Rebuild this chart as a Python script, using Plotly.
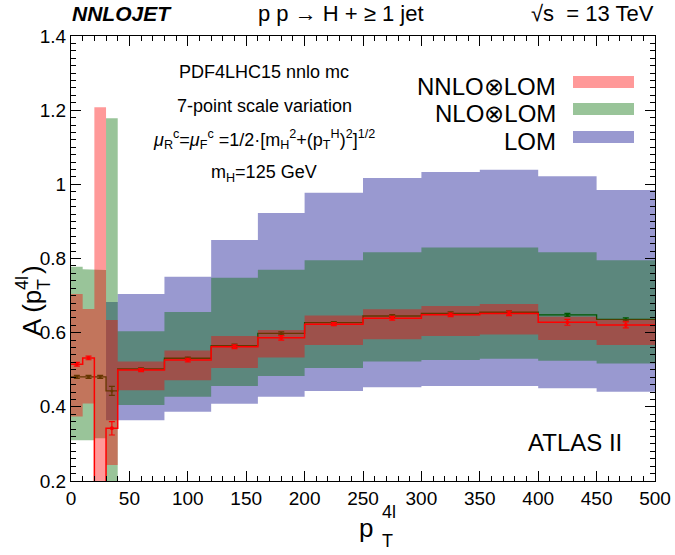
import plotly.graph_objects as go

# ---------------- data ----------------
bin_edges = [0, 10, 20, 30, 40, 80, 120, 160, 200, 250, 300, 350, 400, 450, 500]

nnlo_central = [0.515, 0.532, 0.0, 0.342, 0.499, 0.526, 0.562, 0.586, 0.623, 0.639, 0.648, 0.652, 0.628, 0.621]
nnlo_err = [0.005, 0.005, 0.0, 0.018, 0.004, 0.005, 0.005, 0.006, 0.004, 0.005, 0.005, 0.006, 0.008, 0.008]
nnlo_lo = [0.374, 0.409, -0.2, 0.243, 0.445, 0.472, 0.505, 0.533, 0.567, 0.582, 0.591, 0.595, 0.580, 0.567]
nnlo_hi = [0.704, 0.664, 1.208, 0.634, 0.522, 0.552, 0.591, 0.607, 0.646, 0.663, 0.672, 0.677, 0.643, 0.636]

nlo_central = [0.481, 0.481, 0.481, 0.443, 0.502, 0.531, 0.565, 0.598, 0.627, 0.645, 0.652, 0.655, 0.648, 0.636]
nlo_err = [0.004, 0.004, 0.004, 0.012, 0.003, 0.003, 0.004, 0.004, 0.003, 0.004, 0.004, 0.004, 0.004, 0.004]
nlo_lo = [0.310, 0.310, 0.315, 0.15, 0.405, 0.427, 0.456, 0.483, 0.505, 0.522, 0.526, 0.530, 0.524, 0.517]
nlo_hi = [0.778, 0.771, 0.769, 1.178, 0.604, 0.656, 0.748, 0.770, 0.795, 0.817, 0.830, 0.830, 0.817, 0.795]

lo_lo = [None, None, None, 0.364, 0.364, 0.387, 0.408, 0.427, 0.443, 0.453, 0.456, 0.456, 0.450, 0.441]
lo_hi = [None, None, None, 0.683, 0.704, 0.751, 0.850, 0.923, 0.977, 1.017, 1.033, 1.039, 1.022, 0.985]

x_tick_vals = [0, 50, 100, 150, 200, 250, 300, 350, 400, 450, 500]
y_tick_vals = [0.2, 0.4, 0.6, 0.8, 1.0, 1.2, 1.4]
y_tick_text = ["0.2", "0.4", "0.6", "0.8", "1", "1.2", "1.4"]

legend_labels = ["NNLO⊗LOM", "NLO⊗LOM", "LOM"]

# ---------------- styles ----------------
RED = "rgba(255,0,0,0.4)"
GREEN = "rgba(0,107,0,0.4)"
BLUE = "rgba(0,0,138,0.4)"
FONT = "Liberation Sans, Arial, Helvetica, sans-serif"

centers = [(bin_edges[i] + bin_edges[i + 1]) / 2 for i in range(len(bin_edges) - 1)]


def band_path(lo, hi):
    xs, ys = [], []
    idx = [i for i in range(len(lo)) if lo[i] is not None]
    for i in idx:
        xs += [bin_edges[i], bin_edges[i + 1]]
        ys += [hi[i], hi[i]]
    for i in reversed(idx):
        xs += [bin_edges[i + 1], bin_edges[i]]
        ys += [lo[i], lo[i]]
    xs.append(xs[0])
    ys.append(ys[0])
    return xs, ys


def band(lo, hi, color):
    xs, ys = band_path(lo, hi)
    return go.Scatter(x=xs, y=ys, mode="lines", fill="toself", fillcolor=color,
                      line=dict(width=0), hoverinfo="skip", showlegend=False)


def step(vals, color, width):
    return go.Scatter(x=bin_edges, y=vals + [vals[-1]], mode="lines", line_shape="hv",
                      line=dict(color=color, width=width), showlegend=False, hoverinfo="skip")


def points(vals, errs, color, size):
    return go.Scatter(x=centers, y=vals, mode="markers",
                      marker=dict(color=color, size=size),
                      error_y=dict(type="data", array=errs, color=color, thickness=1.2, width=3),
                      showlegend=False, cliponaxis=True)


fig = go.Figure()
fig.add_trace(band(lo_lo, lo_hi, BLUE))
fig.add_trace(band(nlo_lo, nlo_hi, GREEN))
fig.add_trace(step(nlo_central, "rgb(0,90,0)", 1.3))
fig.add_trace(points(nlo_central, nlo_err, "rgb(0,90,0)", 3))
fig.add_trace(band(nnlo_lo, nnlo_hi, RED))
fig.add_trace(step(nnlo_central, "rgb(255,0,0)", 1.5))
fig.add_trace(points(nnlo_central, nnlo_err, "rgb(255,0,0)", 4))

L, R, T, B = 71, 655, 36, 481
W, H = 675, 555


def px(x):
    return (x - L) / (R - L)


def py(y):
    return (B - y) / (B - T)


ann = []


def text(x, y, s, size, xanchor="center", yanchor="middle", angle=0):
    ann.append(dict(x=px(x), y=py(y), xref="paper", yref="paper", text=s, showarrow=False,
                    xanchor=xanchor, yanchor=yanchor, textangle=angle,
                    font=dict(family=FONT, size=size, color="black")))


# header
text(70, 14, "<b><i>NNLOJET</i></b>", 21, xanchor="left")
text(341, 14, "p p → H + ≥ 1 jet", 22)
text(656, 14, "√s  = 13 TeV", 22, xanchor="right")

# info block
text(264, 72, "PDF4LHC15 nnlo mc", 18)
text(264, 106, "7-point scale variation", 18)
text(264, 139, "<i>μ</i><sub>R</sub><sup>c</sup>=<i>μ</i><sub>F</sub><sup>c</sup> =1/2·[m<sub>H</sub><sup>2</sup>+(p<sub>T</sub><sup>H</sup>)<sup>2</sup>]<sup>1/2</sup>", 18)
text(264, 173, "m<sub>H</sub>=125 GeV", 18)

# legend
legend_colors = [RED, GREEN, BLUE]
legend_y = [82, 109, 137]
shapes = []
for lab, col, yy in zip(legend_labels, legend_colors, legend_y):
    text(558, yy + 4, lab, 24, xanchor="right")
    shapes.append(dict(type="rect", xref="paper", yref="paper",
                       x0=px(573), x1=px(634), y0=py(yy - 6), y1=py(yy + 6),
                       fillcolor=col, line=dict(width=0)))

text(575, 442, "ATLAS II", 24)

# x-axis title
text(366, 528, "p", 26)
text(380, 512, "4l", 18, xanchor="left")
text(380, 541, "T", 18, xanchor="left")

# y-axis title (rotated)
text(32, 313, "A (p", 26, angle=-90)
text(22, 283, "4l", 18, angle=-90)
text(44, 285, "T", 18, angle=-90)
text(32, 270, ")", 26, angle=-90)

fig.update_layout(
    width=W, height=H,
    margin=dict(l=L, r=W - R, t=T, b=H - B, pad=0, autoexpand=False),
    paper_bgcolor="white", plot_bgcolor="white",
    annotations=ann, shapes=shapes,
    showlegend=False,
    font=dict(family=FONT, size=19, color="black"),
)
fig.update_xaxes(range=[0, 500], tickvals=x_tick_vals, ticks="inside", ticklen=10,
                 tickcolor="black", showline=True, linecolor="black", linewidth=1,
                 mirror="allticks", showgrid=False, zeroline=False, automargin=False,
                 tickfont=dict(family=FONT, size=19),
                 minor=dict(dtick=10, ticks="inside", ticklen=5, tickcolor="black", showgrid=False))
fig.update_yaxes(range=[0.2, 1.4], tickvals=y_tick_vals, ticktext=y_tick_text, ticks="inside",
                 ticklen=10, tickcolor="black", showline=True, linecolor="black", linewidth=1,
                 mirror="allticks", showgrid=False, zeroline=False, automargin=False,
                 tickfont=dict(family=FONT, size=19),
                 minor=dict(dtick=0.02, ticks="inside", ticklen=5, tickcolor="black", showgrid=False))

fig.write_html("out.html")
